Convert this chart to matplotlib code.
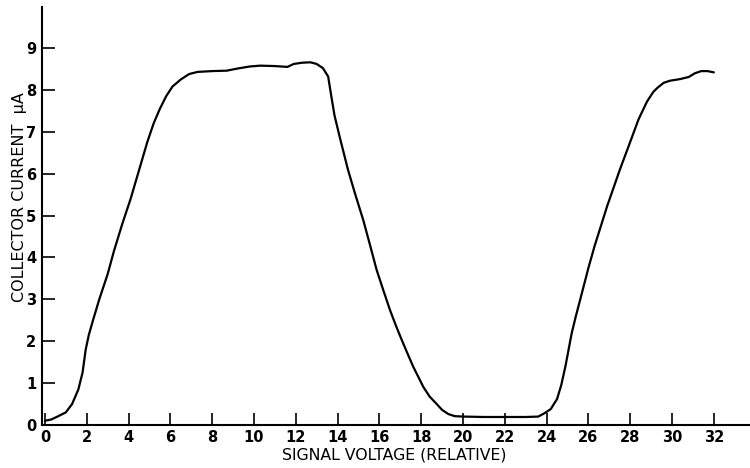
import matplotlib.pyplot as plt

# curve (signal voltage vs collector current)
voltage = [0.0, 0.3, 0.6, 1.0, 1.3, 1.6, 1.8, 1.95, 2.1, 2.3, 2.6, 3.0, 3.3, 3.7,
           4.1, 4.6, 4.9, 5.2, 5.5, 5.8, 6.1, 6.5, 6.9, 7.3, 8.0, 8.7, 9.2, 9.8,
           10.3, 11.0, 11.6, 11.9, 12.3, 12.7, 13.0, 13.3, 13.55, 13.7, 13.85,
           14.1, 14.5, 14.85, 15.23, 15.55, 15.87, 16.2, 16.51, 16.8, 17.07, 17.35,
           17.62, 18.1, 18.4, 18.74, 19.0, 19.3, 19.6, 20.0, 21.0, 22.0, 23.0,
           23.6, 23.9, 24.2, 24.5, 24.7, 24.9, 25.2, 25.4, 25.6, 26.0, 26.3, 26.9,
           27.5, 28.0, 28.4, 28.8, 29.1, 29.3, 29.6, 29.9, 30.4, 30.8, 31.1, 31.4,
           31.7, 32.0]
current = [0.10, 0.13, 0.20, 0.30, 0.50, 0.85, 1.25, 1.80, 2.15, 2.50, 3.00, 3.60,
           4.15, 4.80, 5.40, 6.25, 6.76, 7.20, 7.55, 7.85, 8.08, 8.25, 8.38, 8.43,
           8.45, 8.46, 8.51, 8.56, 8.58, 8.57, 8.55, 8.62, 8.65, 8.66, 8.62, 8.52,
           8.32, 7.85, 7.40, 6.88, 6.09, 5.50, 4.89, 4.30, 3.70, 3.20, 2.74, 2.36,
           2.03, 1.70, 1.39, 0.91, 0.68, 0.50, 0.36, 0.26, 0.21, 0.20, 0.19, 0.19,
           0.19, 0.20, 0.28, 0.38, 0.62, 0.95, 1.40, 2.19, 2.60, 2.98, 3.75, 4.28,
           5.23, 6.09, 6.76, 7.30, 7.72, 7.95, 8.05, 8.17, 8.22, 8.26, 8.31, 8.40,
           8.45, 8.45, 8.42]

x_ticks = list(range(0, 33, 2))
y_ticks = list(range(0, 10))

fig = plt.figure(figsize=(7.5, 4.68), dpi=100)
ax = fig.add_axes([0.056, 0.092, 0.944, 0.893])

ax.plot(voltage, current, color='black', linewidth=1.6,
        solid_capstyle='round', solid_joinstyle='round')

ax.set_xlim(-0.14, 33.73)
ax.set_ylim(0, 9.98)

for side in ['top', 'right']:
    ax.spines[side].set_visible(False)
for side in ['left', 'bottom']:
    ax.spines[side].set_linewidth(1.5)

ax.set_xticks(x_ticks)
ax.set_yticks(y_ticks)
ax.set_xticklabels([str(t) for t in x_ticks])
ax.set_yticklabels([str(t) for t in y_ticks])
ax.tick_params(axis='both', direction='in', length=9, width=1.2,
               labelsize=10.5, pad=4)
for lbl in ax.get_xticklabels() + ax.get_yticklabels():
    lbl.set_fontweight('bold')

ax.set_xlabel('SIGNAL VOLTAGE (RELATIVE)', fontsize=11.3)
ax.set_ylabel('COLLECTOR CURRENT  \u03bcA', fontsize=11.5)
ax.xaxis.set_label_coords(0.497, -0.054)
ax.yaxis.set_label_coords(-0.021, 0.545)

fig.savefig('out.png', dpi=100)
